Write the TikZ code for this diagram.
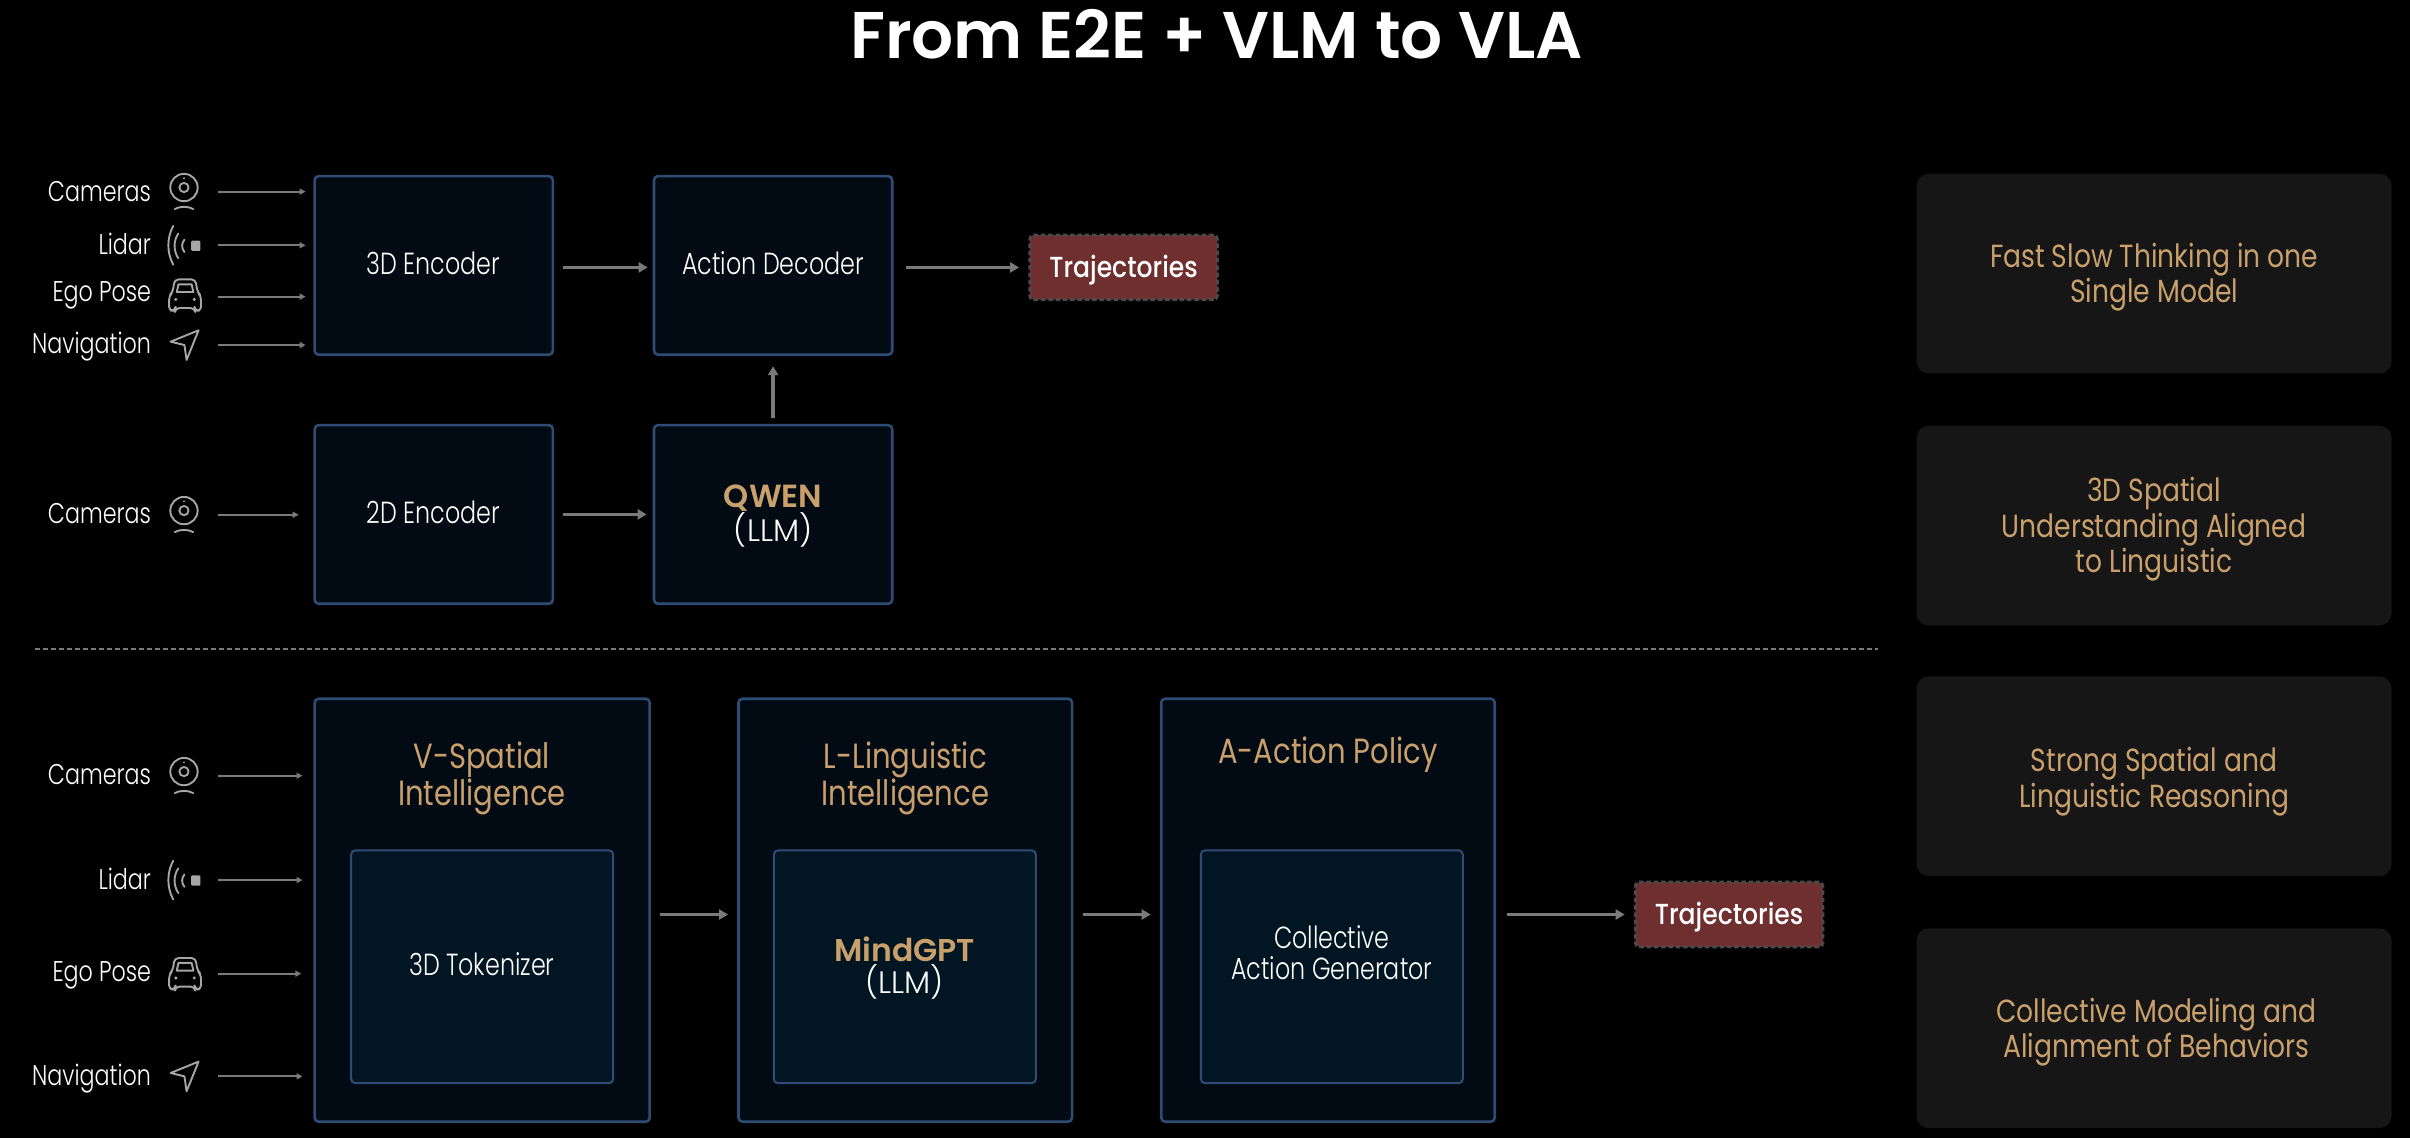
\documentclass[tikz,border=0pt]{standalone}
\usepackage{fontspec}
\usetikzlibrary{arrows.meta,calc}
\setmainfont{Poppins}
\newfontfamily\lightf[FakeStretch=0.78]{Poppins Light}
\newfontfamily\lightw{Poppins Light}
\newfontfamily\regf[FakeStretch=0.83]{Poppins}
\newfontfamily\medf[FakeStretch=0.865]{Poppins Medium}
\newfontfamily\semif{Poppins SemiBold}
\definecolor{boxfill}{HTML}{020B14}
\definecolor{boxedge}{HTML}{2F4C75}
\definecolor{innerfill}{HTML}{021523}
\definecolor{panelfill}{HTML}{161616}
\definecolor{gold}{HTML}{C9A06C}
\definecolor{trajfill}{HTML}{6F2F2F}
\definecolor{trajedge}{HTML}{4A4A4A}
\definecolor{arrowgrey}{HTML}{7A7A7A}
\definecolor{icongrey}{HTML}{A6A6A6}
\tikzset{
  boxsize/.style 2 args={minimum width=#1*1.537pt,minimum height=#2*1.537pt,inner sep=0pt},
  bluebox/.style={draw=boxedge,fill=boxfill,line width=2.6pt,rounded corners=4pt},
  innerbox/.style={draw=boxedge,fill=innerfill,line width=2pt,rounded corners=4pt},
  boxtext/.style={text=white,align=center,inner sep=0pt,font=\lightf\fontsize{30.5}{31}\selectfont},
  panel/.style={fill=panelfill,rounded corners=12pt,boxsize={309}{130}},
  paneltext/.style={text=gold,align=center,inner sep=0pt,font=\regf\fontsize{32}{35.4}\selectfont},
  trajbox/.style={draw=trajedge,fill=trajfill,line width=3pt,dash pattern=on 4.5pt off 2.8pt,rounded corners=4pt,boxsize={122}{42}},
  trajtext/.style={text=white,inner sep=0pt,font=\medf\fontsize{29}{33}\selectfont},
  titletext/.style={text=gold,align=center,inner sep=0pt,font=\regf\fontsize{35}{35.4}\selectfont},
  inlabel/.style={anchor=base east,text=white,font=\lightf\fontsize{28.5}{33}\selectfont,inner sep=0pt},
  thin arrow/.style={draw=arrowgrey,line width=1.8pt,-{Triangle[length=6pt,width=6pt,fill=arrowgrey]}},
  thick arrow/.style={draw=arrowgrey,line width=3.4pt,-{Triangle[length=9pt,width=10pt,fill=arrowgrey]}},
  icon/.style={draw=icongrey,line width=1.9pt,line cap=round,line join=round},
  camicon/.pic={
    \draw[icon] (0,-2.7) circle (8.9);
    \draw[icon] (0,-2.7) circle (3);
    \fill[icongrey] (0,-8.7) circle (0.7);
    \draw[icon] (-6,11.3) .. controls (-3,9.4) and (3,9.4) .. (6,11.3);
  },
  lidaricon/.pic={
    \fill[icongrey,rounded corners=1pt] (4.4,-3) rectangle (10.4,3.6);
    \draw[icon] (-7.3,-12.6) .. controls (-11.5,-5) and (-11.5,5) .. (-7.3,12.6);
    \draw[icon] (-4,-7.6) .. controls (-7.2,-3) and (-7.2,3.6) .. (-4,8.4);
    \draw[icon] (0,-3.6) .. controls (-2,-1.5) and (-2,2) .. (0,4.4);
  },
  caricon/.pic={
    \draw[icon,rounded corners=4pt] (-8,-2) -- (-6.8,-10.2) -- (6.8,-10.2) -- (8,-2) -- (10.4,0.5) -- (10.4,10.2)
       -- (6.5,10.2) -- (6.2,8.4) -- (-6.2,8.4) -- (-6.5,10.2) -- (-10.4,10.2) -- (-10.4,0.5) -- cycle;
    \draw[icon] (-5.4,-2) -- (-4.3,-7) -- (4.3,-7) -- (5.4,-2) -- cycle;
    \fill[icongrey] (-6,2.8) circle (1.1) (6,2.8) circle (1.1);
  },
  navicon/.pic={
    \draw[icon] (9.2,-9.6) -- (-9,-2.2) -- (0,0) -- (1.4,9.7) -- cycle;
  },
}
\begin{document}
\begin{tikzpicture}[x=1.53699pt,y=-1.53699pt]
\useasboundingbox[fill=black] (0,0) rectangle (1568,740.4);

\node[text=white,inner sep=0pt,font=\semif\fontsize{66}{70}\selectfont] (title) at (791.5,22) {From E2E + VLM to VLA};

% top row boxes
\node[bluebox,boxsize={155}{116.2}] (enc3) at (282.2,172.7) {};
\node[boxtext] (enc3t) at (282,171.5) {3D Encoder};
\node[bluebox,boxsize={155}{116.2}] (act) at (503,172.7) {};
\node[boxtext] (actt) at (503,171.5) {Action Decoder};
\node[bluebox,boxsize={155}{116.2}] (enc2) at (282.2,334.7) {};
\node[boxtext] (enc2t) at (282,333.5) {2D Encoder};
\node[bluebox,boxsize={155}{116.2}] (qwen) at (503,334.7) {};
\node[boxtext,text=gold,font=\semif\fontsize{32}{33}\selectfont] (qwent) at (503,324) {QWEN};
\node[boxtext,font=\lightw\fontsize{31}{33}\selectfont] (qwenl) at (503,345) {(LLM)};
\node[trajbox] (traj1) at (731,174) {};
\node[trajtext] (traj1t) at (731,175.5) {Trajectories};

% separator
\coordinate (sepl) at (23,422.5);
\coordinate (sepr) at (1222,422.5);
\draw[draw=arrowgrey,line width=2.2pt,dash pattern=on 4.2pt off 3.8pt] (sepl) -- (sepr);

% bottom row boxes
\node[bluebox,boxsize={218}{275.2}] (vbox) at (313.7,592.2) {};
\node[bluebox,boxsize={217}{275.2}] (lbox) at (589,592.2) {};
\node[bluebox,boxsize={217}{275.2}] (abox) at (864,592.2) {};
\node[innerbox,boxsize={170.4}{151.4}] (tok) at (313.7,629) {};
\node[boxtext] (tokt) at (313.5,627) {3D Tokenizer};
\node[innerbox,boxsize={170.4}{151.4}] (mind) at (588.7,629) {};
\node[boxtext,text=gold,font=\semif\fontsize{31.5}{33}\selectfont] (mindt) at (588.5,617.5) {MindGPT};
\node[boxtext,font=\lightw\fontsize{31}{33}\selectfont] (mindl) at (588.5,639) {(LLM)};
\node[innerbox,boxsize={170.4}{151.4}] (coll) at (866.5,629) {};
\node[boxtext] (collt) at (866.5,620) {Collective\\Action Generator};
\node[titletext] (vt) at (313.5,506.5) {V-Spatial\\Intelligence};
\node[titletext] (lt) at (589,506.5) {L-Linguistic\\Intelligence};
\node[titletext] (at) at (864,491) {A-Action Policy};
\node[trajbox] (traj2) at (1125,595) {};
\node[trajtext] (traj2t) at (1125,596.5) {Trajectories};

% right panels
\node[panel] (p1) at (1401.5,178) {};
\node[panel] (p2) at (1401.5,342) {};
\node[panel] (p3) at (1401.5,505) {};
\node[panel] (p4) at (1401.5,669) {};
\node[paneltext] (p1t) at ($(p1)+(0,2.5)$) {Fast Slow Thinking in one\\Single Model};
\node[paneltext] (p2t) at ($(p2)+(0,2.5)$) {3D Spatial\\Understanding Aligned\\to Linguistic};
\node[paneltext] (p3t) at ($(p3)+(0,3.5)$) {Strong Spatial and\\Linguistic Reasoning};
\node[paneltext] (p4t) at ($(p4)+(1.5,2.5)$) {Collective Modeling and\\Alignment of Behaviors};

% labels
\node[inlabel] (c1) at (98.4,130.8) {Cameras};
\node[inlabel] (l1) at (98.4,165.3) {Lidar};
\node[inlabel] (e1) at (98.4,196.3) {Ego Pose};
\node[inlabel] (n1) at (98.4,229.9) {Navigation};
\node[inlabel] (c2) at (98.4,340.4) {Cameras};
\node[inlabel] (c3) at (98.4,510.7) {Cameras};
\node[inlabel] (l3) at (98.4,578.4) {Lidar};
\node[inlabel] (e3) at (98.4,638.7) {Ego Pose};
\node[inlabel] (n3) at (98.4,706) {Navigation};

% icons
\pic at (119.7,124.7) {camicon};
\pic at (120,159.6) {lidaricon};
\pic at (120.4,192) {caricon};
\pic at (120,224.5) {navicon};
\pic at (119.7,334.9) {camicon};
\pic at (119.7,504.7) {camicon};
\pic at (120,572.6) {lidaricon};
\pic at (120.4,633.5) {caricon};
\pic at (120,700.3) {navicon};

% input arrow starts
\coordinate (sc1) at (142,124.7);
\coordinate (sl1) at (142,159.6);
\coordinate (se1) at (142,193);
\coordinate (sn1) at (142,224.5);
\coordinate (sc2) at (142,334.9);
\coordinate (sc3) at (142,504.7);
\coordinate (sl3) at (142,572.6);
\coordinate (se3) at (142,633.5);
\coordinate (sn3) at (142,700.3);

\draw[thin arrow,shorten >=7.7pt] (sc1) -- (sc1 -| enc3.west);
\draw[thin arrow,shorten >=7.7pt] (sl1) -- (sl1 -| enc3.west);
\draw[thin arrow,shorten >=7.7pt] (se1) -- (se1 -| enc3.west);
\draw[thin arrow,shorten >=7.7pt] (sn1) -- (sn1 -| enc3.west);
\draw[thin arrow,shorten >=14.6pt] (sc2) -- (sc2 -| enc2.west);
\draw[thin arrow,shorten >=10.8pt] (sc3) -- (sc3 -| vbox.west);
\draw[thin arrow,shorten >=10.8pt] (sl3) -- (sl3 -| vbox.west);
\draw[thin arrow,shorten >=12pt] (se3) -- (se3 -| vbox.west);
\draw[thin arrow,shorten >=10.8pt] (sn3) -- (sn3 -| vbox.west);

% main arrows
\draw[thick arrow,shorten <=8.5pt,shorten >=5pt] (enc3.east |- traj1.west) -- (act.west |- traj1.west);
\draw[thick arrow,shorten <=12.3pt,shorten >=9.2pt] (act.east |- traj1.west) -- (traj1.west);
\draw[thick arrow,shorten <=6pt,shorten >=10.2pt] (qwen.north) -- (act.south);
\draw[thick arrow,shorten <=9.2pt,shorten >=6pt] (enc2.east) -- (qwen.west);
\draw[thick arrow,shorten <=9.2pt,shorten >=9.2pt] (vbox.east |- traj2.west) -- (lbox.west |- traj2.west);
\draw[thick arrow,shorten <=9.2pt,shorten >=9.2pt] (lbox.east |- traj2.west) -- (abox.west |- traj2.west);
\draw[thick arrow,shorten <=10.8pt,shorten >=9.2pt] (abox.east |- traj2.west) -- (traj2.west);
\end{tikzpicture}
\end{document}
